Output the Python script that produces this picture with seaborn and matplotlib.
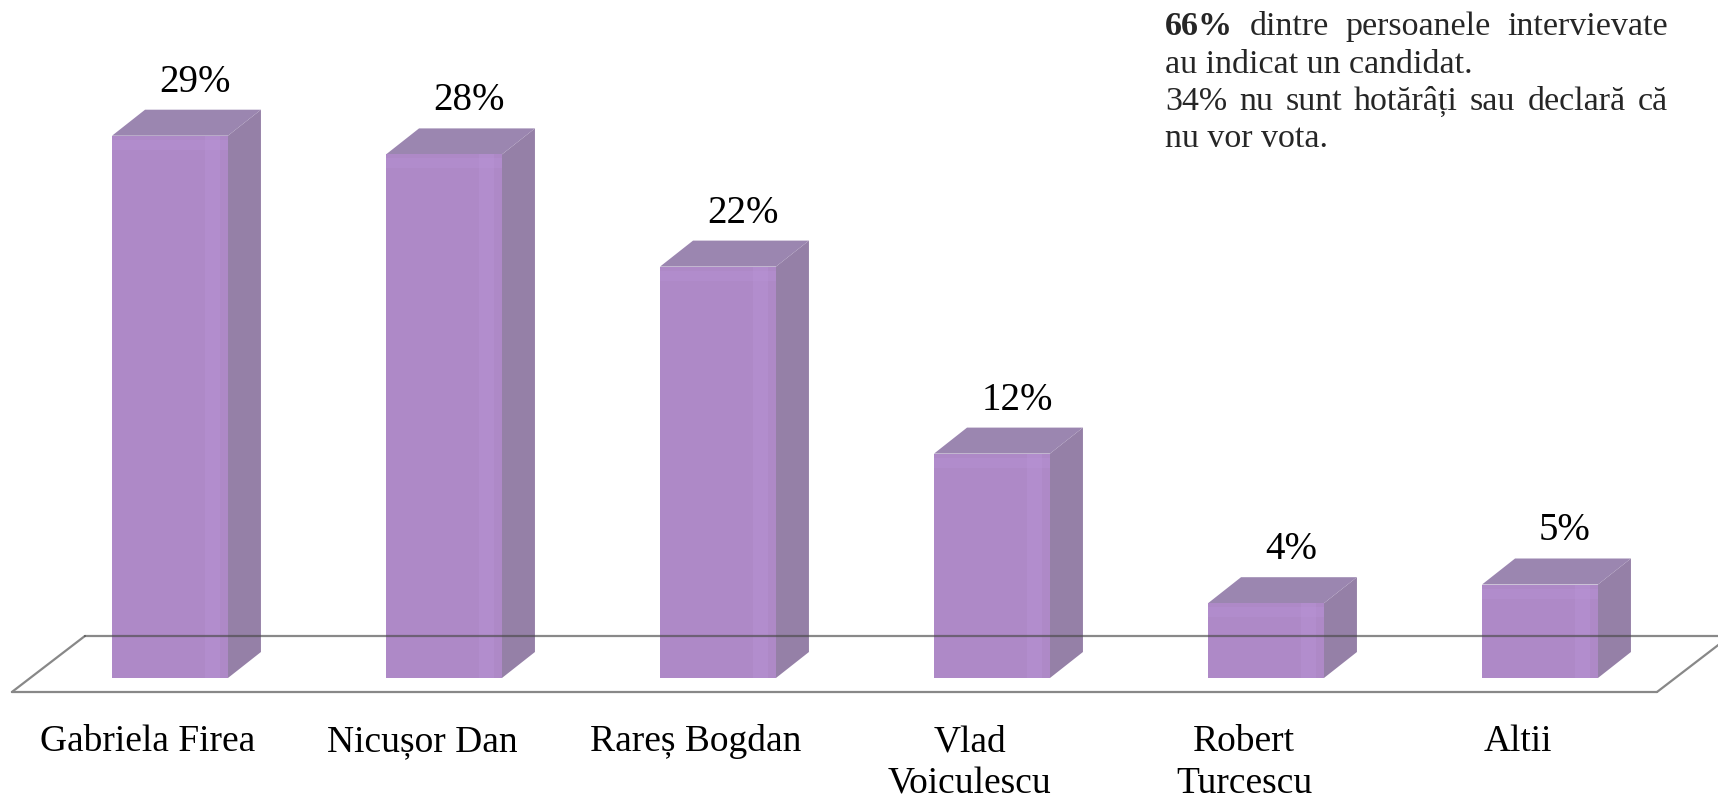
import matplotlib
matplotlib.use("Agg")
import matplotlib.pyplot as plt
import seaborn as sns
from matplotlib.patches import Polygon, Rectangle
from matplotlib.lines import Line2D
from matplotlib.transforms import blended_transform_factory

# ---------------- data ----------------
categories = ["Gabriela Firea", "Nicușor Dan", "Rareș Bogdan",
              "Vlad\nVoiculescu", "Robert\nTurcescu", "Altii"]
values = [29, 28, 22, 12, 4, 5]
note_lines = ["66% dintre persoanele intervievate",
              "au indicat un candidat.",
              "34% nu sunt hotărâți sau declară că",
              "nu vor vota."]
note_justified = [True, False, True, False]
note_bold_word = "66%"

# ---------------- style ----------------
FRONT = "#AE89C7"
SIDE = "#9580A7"
TOP = "#9B86B0"
HILITE = "#B993D6"
FLOOR = "#888888"

sns.set_theme(style="white")
plt.rcParams['font.family'] = ['Liberation Serif', 'DejaVu Serif']

W, H = 1718, 799
fig = plt.figure(figsize=(W / 100, H / 100), dpi=100)
ax = fig.add_axes([0, 0, 1, 1])

sns.barplot(x=categories, y=values, color=FRONT, width=0.423,
            saturation=1, ax=ax, zorder=3, linewidth=0)

# pixel geometry of the category axis
px_x = 274.0          # pixels per category step
x0_px = 170.0         # pixel of first category centre
px_y = 18.7           # pixels per percent
base_px = 678.0       # baseline, from top
ax.set_xlim(-x0_px / px_x, (W - x0_px) / px_x)
ax.set_ylim(-(H - base_px) / px_y, base_px / px_y)
ax.axis("off")

ddx = 33 / px_x
ddy = 26 / px_y

for p in ax.patches[:len(values)]:
    x0 = p.get_x()
    w = p.get_width()
    h = p.get_height()
    side = Polygon([(x0 + w, 0), (x0 + w + ddx, ddy), (x0 + w + ddx, h + ddy), (x0 + w, h)],
                   closed=True, facecolor=SIDE, edgecolor="none", zorder=2.9)
    top = Polygon([(x0, h), (x0 + ddx, h + ddy), (x0 + w + ddx, h + ddy), (x0 + w, h)],
                  closed=True, facecolor=TOP, edgecolor="none", zorder=2.9)
    ax.add_patch(side)
    ax.add_patch(top)
    # soft highlight stripes on the front face
    ax.add_patch(Rectangle((x0 + w * 0.80, 0), w * 0.13, h, facecolor=HILITE,
                           edgecolor="none", alpha=0.45, zorder=3.1))
    ax.add_patch(Rectangle((x0, h - 14 / px_y), w, 10 / px_y, facecolor=HILITE,
                           edgecolor="none", alpha=0.35, zorder=3.1))

# floor plane (chart base)
fl_front = -14 / px_y
fl_back = 42 / px_y
fl_left = -0.577
fl_right = 5.427
fl_dx = 73 / px_x
ax.add_line(Line2D([fl_left, fl_right], [fl_front, fl_front], color=FLOOR, lw=1.6, zorder=1))
ax.add_line(Line2D([fl_left, fl_left + fl_dx], [fl_front, fl_back], color=FLOOR, lw=1.6, zorder=1))
ax.add_line(Line2D([fl_right, fl_right + fl_dx], [fl_front, fl_back], color=FLOOR, lw=1.6, zorder=1))
ax.add_line(Line2D([fl_left + fl_dx, fl_right + fl_dx + 1], [fl_back, fl_back],
                   color="#4a4a4a", alpha=0.65, lw=1.6, zorder=4))

# value labels
for i, v in enumerate(values):
    ax.annotate(f"{v}%", xy=(i + 25 / px_x, v + ddy), xytext=(0, 18),
                textcoords="offset pixels", ha="center", va="baseline",
                fontsize=28, color="black", zorder=5)

# category labels
tr = blended_transform_factory(ax.transData, fig.transFigure)
for i, c in enumerate(categories):
    for k, line in enumerate(c.split("\n")):
        ax.text(i - 22 / px_x, 1 - (751 + 42 * k) / H, line, transform=tr,
                ha="center", va="baseline", fontsize=27, color="black")

# annotation (justified)
renderer = fig.canvas.get_renderer()
left_px, right_px = 1165, 1668
baselines = [35, 73, 110, 147]
for line, just, yb in zip(note_lines, note_justified, baselines):
    yf = 1 - yb / H
    words = line.split(" ")
    if just:
        texts = []
        for w_ in words:
            t = fig.text(0, yf, w_, fontsize=24.5, va="baseline", ha="left",
                         fontweight="bold" if w_ == note_bold_word else "normal")
            texts.append(t)
        widths = [t.get_window_extent(renderer).width for t in texts]
        gap = (right_px - left_px - sum(widths)) / (len(words) - 1)
        xp = left_px
        for t, wd in zip(texts, widths):
            t.set_x(xp / W)
            xp += wd + gap
    else:
        fig.text(left_px / W, yf, line, fontsize=24.5, va="baseline", ha="left")

fig.savefig("out.png", dpi=100, facecolor="white")
